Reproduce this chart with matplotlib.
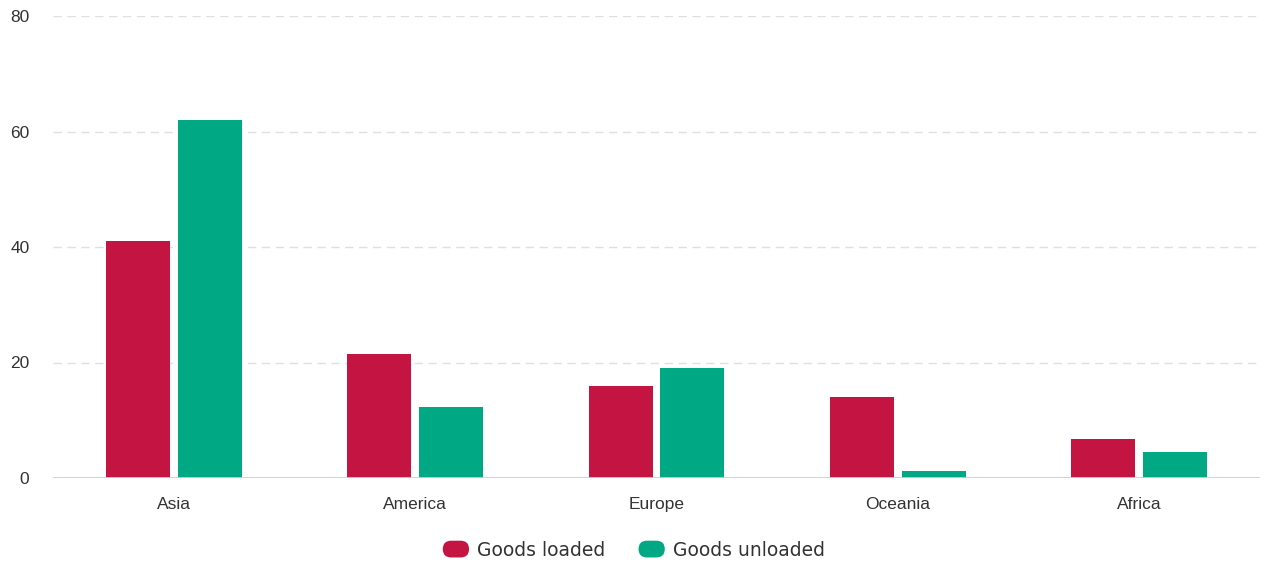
import matplotlib
matplotlib.use("Agg")
import matplotlib.pyplot as plt
import numpy as np
from matplotlib.patches import FancyBboxPatch, Patch
from matplotlib.legend_handler import HandlerPatch

categories = ["Asia", "America", "Europe", "Oceania", "Africa"]
goods_loaded = [41, 21.5, 16, 14, 6.8]
goods_unloaded = [62, 12.3, 19, 1.2, 4.5]
series_names = ["Goods loaded", "Goods unloaded"]
colors = ["#c41442", "#00a884"]
yticks = [0, 20, 40, 60, 80]

fig = plt.figure(figsize=(12.68, 5.63), dpi=100)
ax = fig.add_axes([53/1268, 1-478/563, (1260-53)/1268, (478-16)/563])

x = np.arange(len(categories))
w = 0.265
off = 0.149
ax.bar(x - off, goods_loaded, width=w, color=colors[0], zorder=3)
ax.bar(x + off, goods_unloaded, width=w, color=colors[1], zorder=3)

ax.set_xlim(-0.5, len(categories) - 0.5)
ax.set_ylim(0, 80)
ax.set_yticks(yticks)
ax.set_xticks(x)
ax.set_xticklabels(categories)
for s in ax.spines.values():
    s.set_visible(False)
ax.axhline(0, color="#bfd2ea", lw=2, zorder=4)
ax.yaxis.grid(True, color="#e0e0e0", linestyle=(0, (6, 4)), lw=1)
ax.set_axisbelow(True)
ax.tick_params(axis="both", length=0, labelcolor="#333333")
ax.tick_params(axis="y", pad=17)
ax.tick_params(axis="x", pad=14)
for lab in ax.get_yticklabels() + ax.get_xticklabels():
    lab.set_fontsize(12.5)
    lab.set_fontfamily("Liberation Sans")


class RoundHandler(HandlerPatch):
    def create_artists(self, legend, orig_handle, xdescent, ydescent, width, height, fontsize, trans):
        p = FancyBboxPatch((-xdescent, -ydescent), width, height,
                           boxstyle="round,pad=0,rounding_size=%f" % (height / 2),
                           facecolor=orig_handle.get_facecolor(), edgecolor="none",
                           transform=trans)
        return [p]


handles = [Patch(facecolor=c) for c in colors]
leg = fig.legend(handles, series_names, loc="center", bbox_to_anchor=(0.5, 1 - 550/563),
                 ncol=2, frameon=False, handler_map={Patch: RoundHandler()},
                 handlelength=1.4, handleheight=1.0, handletextpad=0.45, columnspacing=1.75,
                 borderpad=0, prop={"family": "DejaVu Sans", "size": 13.5})
for t in leg.get_texts():
    t.set_color("#333333")

fig.savefig("out.png", dpi=100)
